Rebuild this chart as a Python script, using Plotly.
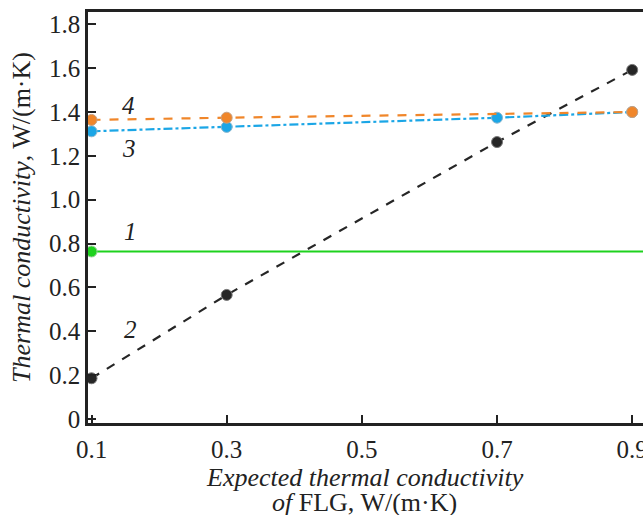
import plotly.graph_objects as go

x_vals = [0.1, 0.3, 0.7, 0.9]
s1_x = [0.1, 0.916]
s1_y = [0.764, 0.764]
s2_y = [0.186, 0.566, 1.263, 1.592]
s3_y = [1.312, 1.332, 1.374, 1.400]
s4_x = [0.1, 0.3, 0.9]
s4_y = [1.364, 1.374, 1.400]
y_ticks = [0, 0.2, 0.4, 0.6, 0.8, 1.0, 1.2, 1.4, 1.6, 1.8]
y_ticktext = ["0", "0.2", "0.4", "0.6", "0.8", "1.0", "1.2", "1.4", "1.6", "1.8"]
x_ticks = [0.1, 0.3, 0.5, 0.7, 0.9]
x_ticktext = ["0.1", "0.3", "0.5", "0.7", "0.9"]
labels = ["1", "2", "3", "4"]
label_x = [0.157, 0.157, 0.155, 0.155]
label_y = [0.855, 0.41, 1.235, 1.43]
x_title_lines = ["<i>Expected thermal conductivity</i>", "<i>of</i> FLG, W/(m·K)"]

green = "#1ed21e"
black = "#262626"
blue = "#1ba6e6"
orange = "#f0862a"

fig = go.Figure()
fig.add_trace(go.Scatter(x=s1_x, y=s1_y, mode="lines", line=dict(color=green, width=2.2),
                         cliponaxis=False, showlegend=False))
fig.add_trace(go.Scatter(x=[s1_x[0]], y=[s1_y[0]], mode="markers",
                         marker=dict(color=green, size=11, line=dict(color="#9acf9a", width=1)),
                         cliponaxis=False, showlegend=False))
fig.add_trace(go.Scatter(x=x_vals, y=s2_y, mode="lines+markers",
                         line=dict(color=black, width=2.2, dash="dash"),
                         marker=dict(color=black, size=11, line=dict(color="#777777", width=1)),
                         cliponaxis=False, showlegend=False))
fig.add_trace(go.Scatter(x=x_vals, y=s3_y, mode="lines+markers",
                         line=dict(color=blue, width=2.2, dash="dashdot"),
                         marker=dict(color=blue, size=11, line=dict(color="#8cb8cf", width=1)),
                         cliponaxis=False, showlegend=False))
fig.add_trace(go.Scatter(x=s4_x, y=s4_y, mode="lines+markers",
                         line=dict(color=orange, width=2.2, dash="dash"),
                         marker=dict(color=orange, size=11, line=dict(color="#c8a080", width=1)),
                         cliponaxis=False, showlegend=False))

for t, lx, ly in zip(labels, label_x, label_y):
    fig.add_annotation(x=lx, y=ly, text="<i>" + t + "</i>", showarrow=False,
                       font=dict(family="Liberation Serif", size=25, color="#222222"))

for txt, py in zip(x_title_lines, [-0.133, -0.194]):
    fig.add_annotation(x=0.499, y=py, xref="paper", yref="paper", text=txt, showarrow=False,
                       xanchor="center", yanchor="middle",
                       font=dict(family="Liberation Serif", size=26, color="#222222"))

fig.update_layout(
    width=643, height=515,
    margin=dict(l=88, r=0, t=12, b=92),
    paper_bgcolor="white", plot_bgcolor="white",
    font=dict(family="Liberation Serif", size=25, color="#222222"),
    xaxis=dict(range=[0.0948, 0.916], tickvals=x_ticks, ticktext=x_ticktext, automargin=False,
               showgrid=False, zeroline=False, showline=True, linecolor="#222222", linewidth=2.5,
               mirror=True, ticks="inside", ticklen=8, tickwidth=1.5, tickcolor="#222222",
               tickfont=dict(size=25), ticklabeloverflow="allow", ticklabelstandoff=2),
    yaxis=dict(range=[-0.018, 1.856], tickvals=y_ticks, ticktext=y_ticktext, automargin=False,
               showgrid=False, zeroline=False, showline=True, linecolor="#222222", linewidth=2.5,
               ticks="inside", ticklen=8, tickwidth=1.5, tickcolor="#222222",
               tickfont=dict(size=25),
               title=dict(text="<i>Thermal conductivity</i>, W/(m·K)", font=dict(size=26), standoff=11)),
)
fig.write_html("out.html", config={"displayModeBar": False},
               post_script="document.body.style.margin='0';document.body.style.overflow='hidden';")
